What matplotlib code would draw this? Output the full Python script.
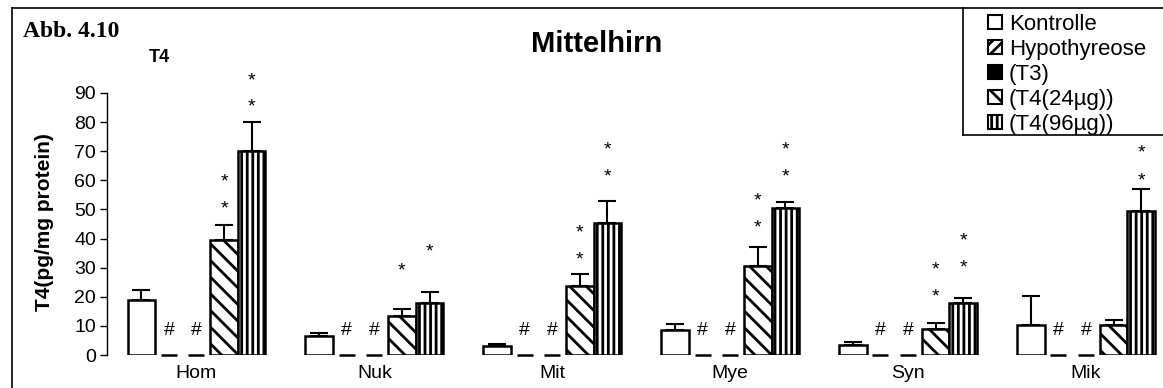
import numpy as np
import matplotlib
matplotlib.use("Agg")
import matplotlib.pyplot as plt
from matplotlib.patches import Patch
from matplotlib.lines import Line2D

plt.rcParams['font.family'] = ['Liberation Sans', 'DejaVu Sans']
plt.rcParams['hatch.linewidth'] = 2.0

# data
regions = ["Hom", "Nuk", "Mit", "Mye", "Syn", "Mik"]
groups = ["Kontrolle", "Hypothyreose", "(T3)", "(T4(24µg))", "(T4(96µg))"]

kontrolle = [19.0, 6.5, 3.2, 8.6, 3.4, 10.3]
hypo = [0, 0, 0, 0, 0, 0]
t3 = [0, 0, 0, 0, 0, 0]
t4_24 = [39.5, 13.4, 23.7, 30.7, 8.9, 10.3]
t4_96 = [70.1, 17.9, 45.3, 50.5, 18.0, 49.5]

kontrolle_err = [3.3, 1.0, 0.5, 2.1, 1.0, 10.1]
t4_24_err = [5.2, 2.4, 4.1, 6.3, 2.0, 1.7]
t4_96_err = [9.9, 3.7, 7.6, 2.1, 1.7, 7.5]

# significance marks (value levels of each star)
stars_24 = [[51, 60], [29.5], [33.4, 42.6], [44.3, 53.6], [20.6, 30], []]
stars_96 = [[86, 95], [36], [62, 71], [62, 71], [30.6, 40], [60.5, 70]]
hash_level = 8.5

W, H = 1163, 388
fig = plt.figure(figsize=(W / 100, H / 100), dpi=100)
ax = fig.add_axes([107 / W, 33 / H, (W - 107) / W, 262 / H])

x = np.arange(len(regions))
bw = 0.155
series = [kontrolle, hypo, t3, t4_24, t4_96]
hatches = [None, '///', None, '\\\\', '|||']
faces = ['white', 'white', 'black', 'white', 'white']
errs = [kontrolle_err, None, None, t4_24_err, t4_96_err]

for i, vals in enumerate(series):
    xi = x + (i - 2) * bw
    if i in (1, 2):
        # empty groups: only a short line at the baseline
        ax.plot(xi, vals, ls='none', marker='_', ms=11, mew=1.8, color='black',
                zorder=2, clip_on=False)
        continue
    ax.bar(xi, vals, bw, color=faces[i], edgecolor='black', linewidth=1.8,
           hatch=hatches[i], zorder=2)
    if errs[i] is not None:
        ax.errorbar(xi, vals, yerr=[np.zeros(len(vals)), errs[i]], fmt='none',
                    ecolor='black', elinewidth=1.5, capsize=6.5, capthick=1.5,
                    zorder=3)

for j in range(len(regions)):
    for i in (1, 2):
        ax.text(x[j] + (i - 2) * bw, hash_level, '#', ha='center', va='center',
                fontsize=14)
    for s in stars_24[j]:
        ax.annotate('*', (x[j] + bw, s), xytext=(0, -1.5), textcoords='offset points',
                    ha='center', va='center', fontsize=14, annotation_clip=False)
    for s in stars_96[j]:
        ax.annotate('*', (x[j] + 2 * bw, s), xytext=(0, -1.5), textcoords='offset points',
                    ha='center', va='center', fontsize=14, annotation_clip=False)

ax.set_ylim(0, 90)
ax.set_xlim(-0.503, 5.433)
ax.set_yticks(np.arange(0, 91, 10))
ax.set_xticks(x)
ax.set_xticklabels(regions, fontsize=14)
ax.tick_params(axis='x', length=0, pad=7)
ax.tick_params(axis='y', direction='out', length=5, width=1, labelsize=14, pad=3)
for side in ('top', 'right', 'bottom'):
    ax.spines[side].set_visible(False)
ax.spines['left'].set_linewidth(1)
ax.patch.set_visible(False)

fig.text(45 / W, 1 - 222 / H, 'T4(pg/mg protein)', rotation=90, ha='center',
         va='center', fontsize=15, fontweight='bold')
fig.text(597 / W, 1 - 52 / H, 'Mittelhirn', ha='center', va='baseline',
         fontsize=21, fontweight='bold')
fig.text(159 / W, 1 - 62 / H, 'T4', ha='center', va='baseline',
         fontsize=13, fontweight='bold')
fig.text(23 / W, 1 - 37 / H, 'Abb. 4.10', ha='left', va='baseline',
         fontsize=17, fontweight='bold', family='Liberation Serif')

# outer frame
fig.add_artist(Line2D([12 / W, 1], [1 - 8 / H, 1 - 8 / H], color='black', lw=1.2))
fig.add_artist(Line2D([12 / W, 12 / W], [0, 1 - 8 / H], color='black', lw=1.2))
# legend frame
fig.add_artist(Line2D([963 / W, 963 / W], [1 - 8 / H, 1 - 135 / H], color='black', lw=1.2))
fig.add_artist(Line2D([963 / W, 1], [1 - 135 / H, 1 - 135 / H], color='black', lw=1.2))

handles = [Patch(facecolor=faces[i], edgecolor='black', hatch=hatches[i], linewidth=1.5)
           for i in range(len(groups))]
leg = fig.legend(handles, groups, loc='upper left',
                 bbox_to_anchor=(988 / W, 1 - 14 / H), bbox_transform=fig.transFigure,
                 borderaxespad=0, borderpad=0, fontsize=16, handlelength=0.63,
                 handleheight=0.63, handletextpad=0.3, labelspacing=0.18,
                 frameon=False)

fig.savefig('out.png', dpi=100)
